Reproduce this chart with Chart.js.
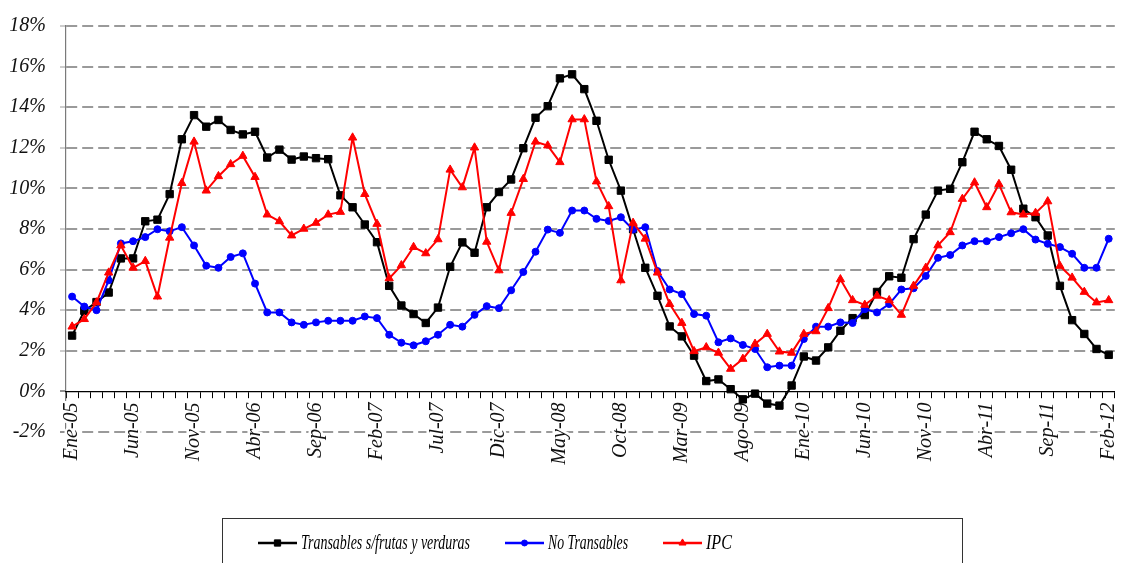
<!DOCTYPE html>
<html>
<head>
<meta charset="utf-8">
<script src="https://cdn.jsdelivr.net/npm/chart.js@4.4.0/dist/chart.umd.min.js"></script>
<style>
html,body{margin:0;padding:0;background:#fff;overflow:hidden}
#wrap{width:1121px;height:563px;position:relative}
</style>
</head>
<body>
<div id="wrap"><canvas id="c" width="1121" height="563"></canvas></div>
<script>
const months = [
 'Ene-05','Feb-05','Mar-05','Abr-05','May-05','Jun-05','Jul-05','Ago-05','Sep-05','Oct-05','Nov-05','Dic-05',
 'Ene-06','Feb-06','Mar-06','Abr-06','May-06','Jun-06','Jul-06','Ago-06','Sep-06','Oct-06','Nov-06','Dic-06',
 'Ene-07','Feb-07','Mar-07','Abr-07','May-07','Jun-07','Jul-07','Ago-07','Sep-07','Oct-07','Nov-07','Dic-07',
 'Ene-08','Feb-08','Mar-08','Abr-08','May-08','Jun-08','Jul-08','Ago-08','Sep-08','Oct-08','Nov-08','Dic-08',
 'Ene-09','Feb-09','Mar-09','Abr-09','May-09','Jun-09','Jul-09','Ago-09','Sep-09','Oct-09','Nov-09','Dic-09',
 'Ene-10','Feb-10','Mar-10','Abr-10','May-10','Jun-10','Jul-10','Ago-10','Sep-10','Oct-10','Nov-10','Dic-10',
 'Ene-11','Feb-11','Mar-11','Abr-11','May-11','Jun-11','Jul-11','Ago-11','Sep-11','Oct-11','Nov-11','Dic-11',
 'Ene-12','Feb-12'
];

const transables = [
 2.75, 3.97, 4.40, 4.87, 6.55, 6.55, 8.38, 8.46, 9.72, 12.42, 13.61, 13.04,
 13.37, 12.88, 12.66, 12.79, 11.52, 11.91, 11.42, 11.57, 11.49, 11.44, 9.66, 9.07,
 8.22, 7.35, 5.20, 4.23, 3.81, 3.37, 4.13, 6.14, 7.34, 6.83, 9.07, 9.82,
 10.44, 11.98, 13.48, 14.05, 15.42, 15.62, 14.89, 13.33, 11.41, 9.89, 7.99, 6.09,
 4.71, 3.20, 2.71, 1.76, 0.51, 0.59, 0.11, -0.39, -0.11, -0.60, -0.70, 0.29,
 1.72, 1.52, 2.17, 2.99, 3.61, 3.76, 4.90, 5.67, 5.60, 7.50, 8.71, 9.89,
 9.98, 11.29, 12.79, 12.42, 12.09, 10.92, 9.00, 8.58, 7.68, 5.20, 3.51, 2.83,
 2.09, 1.80
];

const noTransables = [
 4.67, 4.18, 4.00, 5.47, 7.29, 7.40, 7.60, 7.99, 7.89, 8.09, 7.19, 6.19,
 6.09, 6.62, 6.80, 5.31, 3.89, 3.89, 3.40, 3.28, 3.40, 3.48, 3.48, 3.48,
 3.69, 3.61, 2.79, 2.40, 2.27, 2.47, 2.79, 3.28, 3.19, 3.77, 4.20, 4.10,
 4.98, 5.88, 6.88, 7.97, 7.81, 8.91, 8.91, 8.50, 8.40, 8.58, 7.97, 8.09,
 5.93, 5.02, 4.79, 3.81, 3.73, 2.42, 2.61, 2.29, 2.09, 1.19, 1.27, 1.27,
 2.58, 3.19, 3.19, 3.40, 3.37, 4.05, 3.89, 4.30, 5.02, 5.08, 5.69, 6.58,
 6.72, 7.19, 7.40, 7.40, 7.60, 7.79, 7.99, 7.48, 7.27, 7.11, 6.78, 6.09,
 6.09, 7.52
];

const ipc = [
 3.19, 3.56, 4.38, 5.85, 7.19, 6.09, 6.42, 4.67, 7.57, 10.26, 12.30, 9.89,
 10.60, 11.19, 11.60, 10.56, 8.71, 8.38, 7.68, 8.01, 8.30, 8.71, 8.84, 12.50,
 9.72, 8.25, 5.57, 6.21, 7.11, 6.80, 7.49, 10.92, 10.05, 12.01, 7.37, 5.96,
 8.79, 10.46, 12.30, 12.11, 11.29, 13.40, 13.40, 10.34, 9.12, 5.47, 8.30, 7.52,
 5.85, 4.30, 3.37, 1.98, 2.17, 1.90, 1.11, 1.60, 2.34, 2.83, 1.96, 1.90,
 2.83, 2.96, 4.10, 5.52, 4.49, 4.26, 4.71, 4.49, 3.77, 5.20, 6.09, 7.19,
 7.84, 9.48, 10.29, 9.07, 10.21, 8.82, 8.71, 8.79, 9.36, 6.18, 5.60, 4.90,
 4.38, 4.49
];

const seriesNames = ['Transables s/frutas y verduras', 'No Transables', 'IPC'];
const yTickLabels = ['-2%','0%','2%','4%','6%','8%','10%','12%','14%','16%','18%'];
const yMin = -2, yMax = 18, yStep = 2;
const labelEvery = 5;

const FONT_FAMILY = '"Liberation Serif", "Times New Roman", serif';
const tickFont = {family: FONT_FAMILY, style: 'italic', size: 20};

function drawMarker(ctx, style, x, y, r, color) {
  ctx.save();
  ctx.fillStyle = color; ctx.strokeStyle = color; ctx.lineWidth = 1;
  ctx.beginPath();
  if (style === 'rect') {
    const s = r * Math.SQRT1_2;
    ctx.rect(x - s, y - s, 2 * s, 2 * s);
  } else if (style === 'circle') {
    ctx.arc(x, y, r, 0, Math.PI * 2);
  } else if (style === 'triangle') {
    const w = r * Math.sqrt(3) / 2;
    ctx.moveTo(x, y - r);
    ctx.lineTo(x + w, y + r / 2);
    ctx.lineTo(x - w, y + r / 2);
    ctx.closePath();
  }
  ctx.fill(); ctx.stroke();
  ctx.restore();
}

const boxLegend = {
  id: 'boxLegend',
  afterDraw(chart, args, opts) {
    const ctx = chart.ctx;
    ctx.save();
    ctx.strokeStyle = '#333';
    ctx.lineWidth = 1;
    ctx.strokeRect(opts.box.x + 0.5, opts.box.y + 0.5, opts.box.w, opts.box.h);
    const y = opts.rowY;
    chart.data.datasets.forEach((ds, i) => {
      const x0 = opts.itemX[i];
      ctx.strokeStyle = ds.borderColor;
      ctx.lineWidth = 2.5;
      ctx.beginPath(); ctx.moveTo(x0, y); ctx.lineTo(x0 + opts.lineLen, y); ctx.stroke();
      drawMarker(ctx, ds.pointStyle, x0 + opts.lineLen / 2, y, ds.pointRadius * 0.85, ds.borderColor);
      ctx.fillStyle = '#000';
      ctx.font = 'italic ' + opts.fontSize + 'px ' + FONT_FAMILY;
      ctx.textBaseline = 'middle';
      ctx.textAlign = 'left';
      ctx.fillText(ds.label, x0 + opts.lineLen + 4, y + 1, opts.textW[i]);
    });
    ctx.restore();
  }
};

new Chart(document.getElementById('c'), {
  type: 'line',
  data: {
    labels: months,
    datasets: [
      {label: seriesNames[0], data: transables, borderColor: '#000000', backgroundColor: '#000000',
       borderWidth: 2, pointStyle: 'rect', pointRadius: 5.2, pointBorderWidth: 1, tension: 0, order: 3},
      {label: seriesNames[1], data: noTransables, borderColor: '#0000ff', backgroundColor: '#0000ff',
       borderWidth: 2, pointStyle: 'circle', pointRadius: 3.5, pointBorderWidth: 1, tension: 0, order: 2},
      {label: seriesNames[2], data: ipc, borderColor: '#ff0000', backgroundColor: '#ff0000',
       borderWidth: 2, pointStyle: 'triangle', pointRadius: 4.8, pointBorderWidth: 1, tension: 0, order: 1}
    ]
  },
  options: {
    responsive: false,
    animation: false,
    devicePixelRatio: 1,
    layout: {padding: {left: 0, right: 3, top: 24, bottom: 131}},
    plugins: {
      legend: {display: false},
      tooltip: {enabled: false},
      boxLegend: {
        box: {x: 222, y: 518, w: 740, h: 70},
        rowY: 543,
        itemX: [258, 505, 663],
        lineLen: 39,
        fontSize: 20,
        textW: [169, 80, 26]
      }
    },
    scales: {
      y: {
        min: yMin, max: yMax,
        ticks: {
          stepSize: yStep, padding: 14, color: '#111', font: tickFont,
          callback: (v) => yTickLabels[Math.round((v - yMin) / yStep)]
        },
        grid: {
          color: (c) => (c.tick && c.tick.value === 0) ? 'rgba(0,0,0,0)' : '#9a9a9a',
          lineWidth: 2,
          tickLength: 6,
          tickWidth: 1,
          tickColor: (c) => (c.tick && c.tick.value <= 0) ? '#222' : '#9a9a9a'
        },
        border: {display: true, color: '#7a7a7a', width: 1.2, dash: [11, 5]},
        afterFit: (s) => { s.width = 66; }
      },
      x: {
        type: 'category',
        position: {y: 0},
        offset: true,
        grid: {display: true, offset: true, drawOnChartArea: false, drawTicks: true,
               tickLength: 6, tickColor: '#000', tickWidth: 1},
        border: {display: true, color: '#000', width: 1.2},
        ticks: {
          autoSkip: false, minRotation: 90, maxRotation: 90, padding: 5, color: '#111', font: tickFont,
          textStrokeColor: '#ffffff', textStrokeWidth: 5,
          callback: (v, i) => (i % labelEvery === 0 ? months[i] : '')
        },
        afterFit: (s) => { s.paddingLeft = 0; s.paddingRight = 0; }
      }
    }
  },
  plugins: [boxLegend]
});
</script>
</body>
</html>
